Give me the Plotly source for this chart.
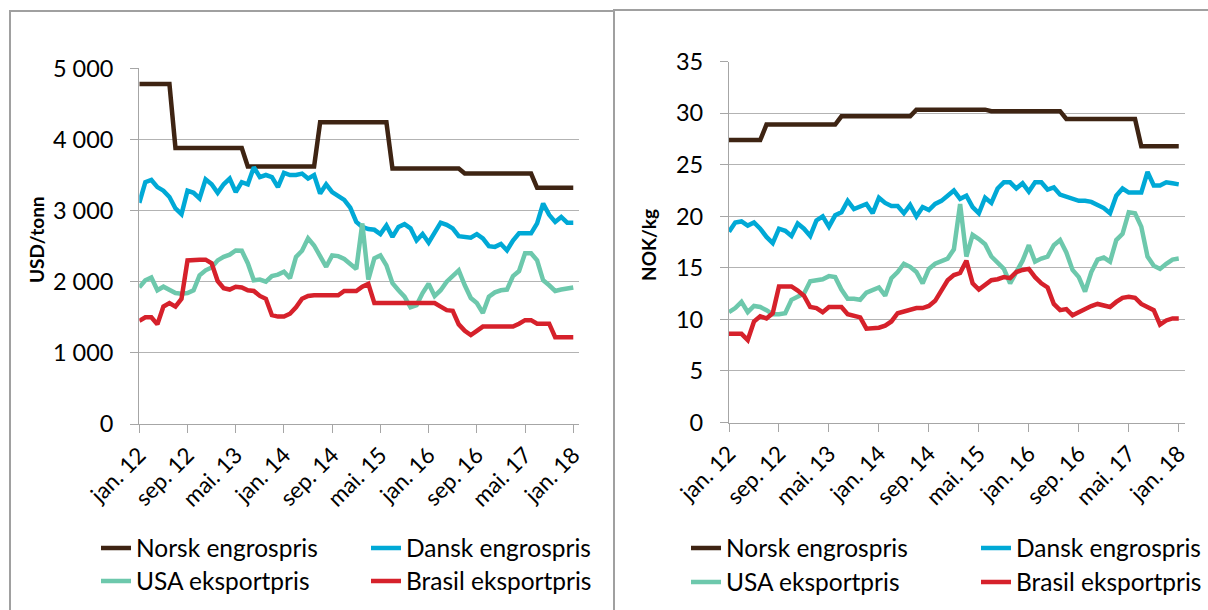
import plotly.graph_objects as go

W, H = 1208, 610

# month labels jan. 12 .. jan. 18
month_names = ['jan', 'feb', 'mar', 'apr', 'mai', 'jun', 'jul', 'aug', 'sep', 'okt', 'nov', 'des']
months = [f"{month_names[i % 12]}. {12 + i // 12}" for i in range(73)]
tick_labels = months[::8]

series_names = ['Norsk engrospris', 'Dansk engrospris', 'USA eksportpris', 'Brasil eksportpris']
colors = ['#3e2413', '#00a9d6', '#6dc8ac', '#d6212b']

# USD/tonn
norsk_usd = [4780] * 6 + [3880] * 12 + [3620] * 12 + [4240] * 12 + [3590] * 12 + [3520] * 12 + [3320] * 7
dansk_usd = [3110, 3400, 3430, 3330, 3280, 3190, 3030, 2950, 3280, 3250,
             3170, 3440, 3370, 3250, 3370, 3450, 3260, 3400, 3370, 3610,
             3470, 3500, 3470, 3330, 3530, 3500, 3500, 3520, 3450, 3500,
             3240, 3370, 3260, 3200, 3150, 3040, 2840, 2770, 2740, 2730,
             2670, 2790, 2630, 2770, 2810, 2750, 2580, 2670, 2550, 2690,
             2830, 2800, 2750, 2640, 2630, 2620, 2670, 2610, 2500, 2490,
             2530, 2440, 2580, 2680, 2680, 2680, 2820, 3100, 2940, 2840,
             2910, 2830, 2830]
usa_usd = [1920, 2020, 2060, 1880, 1930, 1880, 1840, 1830, 1840, 1880,
           2090, 2160, 2200, 2300, 2350, 2380, 2440, 2435, 2260, 2020,
           2030, 2000, 2080, 2100, 2140, 2050, 2350, 2435, 2610, 2510,
           2370, 2210, 2370, 2360, 2320, 2250, 2180, 2820, 2030, 2330,
           2370, 2230, 1980, 1880, 1790, 1640, 1670, 1840, 1970, 1800,
           1880, 2000, 2090, 2160, 1950, 1770, 1700, 1560, 1790, 1850,
           1880, 1890, 2080, 2150, 2400, 2400, 2300, 2020, 1950, 1870,
           1890, 1910, 1920]
brasil_usd = [1450, 1500, 1500, 1400, 1650, 1700, 1650, 1760, 2300, 2310,
              2310, 2310, 2260, 2010, 1910, 1890, 1930, 1920, 1880, 1870,
              1800, 1760, 1530, 1510, 1510, 1550, 1640, 1760, 1800, 1810,
              1810, 1810, 1810, 1810, 1870, 1870, 1870, 1930, 1970, 1700,
              1700, 1700, 1700, 1700, 1700, 1700, 1700, 1700, 1700, 1700,
              1650, 1600, 1590, 1400, 1310, 1250, 1310, 1370, 1370, 1370,
              1370, 1370, 1370, 1410, 1460, 1460, 1410, 1410, 1410, 1220,
              1220, 1220, 1220]

# NOK/kg
norsk_nok = [27.4] * 6 + [28.9] * 12 + [29.7] * 12 + [30.35] * 12 + [30.2] * 12 + [29.45] * 12 + [26.8] * 7
dansk_nok = [18.5, 19.4, 19.5, 19.1, 19.4, 18.8, 18.0, 17.4, 18.8, 18.6,
             18.1, 19.3, 18.8, 18.1, 19.6, 20.0, 19.0, 20.1, 20.4, 21.5,
             20.7, 20.9, 21.2, 20.3, 21.8, 21.3, 21.0, 21.0, 20.3, 21.1,
             20.0, 20.9, 20.6, 21.2, 21.5, 22.0, 22.5, 21.7, 22.0, 20.9,
             20.3, 21.8, 21.3, 22.7, 23.3, 23.3, 22.7, 23.2, 22.4, 23.3,
             23.3, 22.6, 22.8, 22.1, 21.9, 21.8, 21.5, 21.5, 21.4, 21.1,
             20.8, 20.3, 22.0, 22.7, 22.3, 22.3, 22.3, 24.3, 23.0, 23.0,
             23.3, 23.2, 23.1]
usa_nok = [10.7, 11.1, 11.7, 10.7, 11.3, 11.2, 10.9, 10.5, 10.5, 10.6,
           11.9, 12.2, 12.5, 13.7, 13.8, 13.9, 14.2, 14.1, 12.9, 12.0,
           12.0, 11.9, 12.6, 12.8, 13.1, 12.3, 14.0, 14.6, 15.4, 15.1,
           14.6, 13.5, 14.9, 15.4, 15.7, 15.9, 16.8, 21.2, 16.1, 18.2,
           17.8, 17.3, 16.1, 15.5, 14.9, 13.5, 14.6, 15.7, 17.2, 15.6,
           15.9, 16.1, 17.2, 17.7, 16.5, 14.8, 14.1, 12.7, 14.6, 15.8,
           16.0, 15.6, 17.7, 18.3, 20.4, 20.3, 19.0, 16.1, 15.2, 14.9,
           15.4, 15.8, 15.9]
brasil_nok = [8.6, 8.6, 8.6, 8.0, 9.8, 10.3, 10.1, 10.6, 13.2, 13.2,
              13.2, 12.8, 12.3, 11.2, 11.1, 10.7, 11.2, 11.2, 11.2, 10.5,
              10.3, 10.2, 9.1, 9.1, 9.2, 9.4, 9.8, 10.6, 10.8, 11.0,
              11.1, 11.1, 11.3, 11.8, 12.9, 13.8, 14.3, 14.5, 15.7, 13.5,
              12.9, 13.3, 13.8, 13.9, 14.1, 14.0, 14.6, 14.8, 14.9, 14.1,
              13.5, 13.1, 11.5, 10.9, 11.0, 10.4, 10.7, 11.1, 11.3, 11.5,
              11.4, 11.2, 11.7, 12.1, 12.2, 12.1, 11.5, 11.2, 10.9, 9.5,
              9.9, 10.1, 10.1]

usd_series = [norsk_usd, dansk_usd, usa_usd, brasil_usd]
nok_series = [norsk_nok, dansk_nok, usa_nok, brasil_nok]

FONT = 'Lato'
GRID = '#b3b3b3'
AXIS = '#a6a6a6'


def px_x(p):
    return p / W


def px_y(p):
    return 1 - p / H


fig = go.Figure()

legend_of = ['legend', 'legend', 'legend2', 'legend2']
for name, vals, col, lg in zip(series_names, usd_series, colors, legend_of):
    fig.add_trace(go.Scatter(x=months, y=vals, name=name, mode='lines',
                             line=dict(color=col, width=4.5),
                             xaxis='x', yaxis='y', legend=lg))

legend_of = ['legend3', 'legend3', 'legend4', 'legend4']
for name, vals, col, lg in zip(series_names, nok_series, colors, legend_of):
    fig.add_trace(go.Scatter(x=months, y=vals, name=name, mode='lines',
                             line=dict(color=col, width=4.5),
                             xaxis='x2', yaxis='y2', legend=lg))

xcommon = dict(type='category', range=[0, 73], tickmode='array',
               tickvals=tick_labels, ticktext=tick_labels, tickangle=-45,
               showgrid=False, showline=True, linecolor=AXIS, linewidth=1.3,
               ticks='outside', ticklen=8, tickcolor=AXIS, tickwidth=1.3,
               tickfont=dict(family=FONT, size=22.5, color='black'))
ycommon = dict(showgrid=True, gridcolor=GRID, gridwidth=1.3, zeroline=False,
               showline=True, linecolor=AXIS, linewidth=1.3,
               ticks='outside', ticklen=8, tickcolor=AXIS, tickwidth=1.3,
               ticklabelstandoff=12,
               tickfont=dict(family=FONT, size=23.5, color='black'))

legend_common = dict(orientation='h', bgcolor='rgba(0,0,0,0)', borderwidth=0,
                     font=dict(family=FONT, size=24.5, color='black'),
                     xanchor='left', yanchor='middle', entrywidthmode='pixels',
                     traceorder='normal')

fig.update_layout(
    width=W, height=H,
    margin=dict(l=0, r=0, t=0, b=0, autoexpand=False),
    paper_bgcolor='white', plot_bgcolor='white',
    separators=', ',
    showlegend=True,
    xaxis=dict(xcommon, domain=[px_x(139.3), px_x(579.3)], anchor='y'),
    yaxis=dict(ycommon, domain=[px_y(424), px_y(68.3)], range=[0, 5000],
               dtick=1000, tickformat=',d', anchor='x'),
    xaxis2=dict(xcommon, domain=[px_x(729), px_x(1185)], anchor='y2'),
    yaxis2=dict(ycommon, domain=[px_y(422.5), px_y(61.7)], range=[0, 35],
                dtick=5, anchor='x2'),
    legend=dict(legend_common, x=px_x(96), y=px_y(548), entrywidth=225),
    legend2=dict(legend_common, x=px_x(96), y=px_y(581), entrywidth=225),
    legend3=dict(legend_common, x=px_x(686), y=px_y(548), entrywidth=245),
    legend4=dict(legend_common, x=px_x(686), y=px_y(582), entrywidth=245),
    annotations=[
        dict(text='<b>USD/tonn</b>', x=px_x(36), y=px_y(240), xref='paper', yref='paper',
             xanchor='center', yanchor='middle', textangle=-90, showarrow=False,
             font=dict(family=FONT, size=19, color='black')),
        dict(text='<b>NOK/kg</b>', x=px_x(648), y=px_y(245), xref='paper', yref='paper',
             xanchor='center', yanchor='middle', textangle=-90, showarrow=False,
             font=dict(family=FONT, size=19, color='black')),
    ],
    shapes=[
        dict(type='rect', xref='paper', yref='paper', x0=px_x(10), x1=px_x(614),
             y0=px_y(11), y1=px_y(640), line=dict(color='#a0a0a0', width=2)),
        dict(type='rect', xref='paper', yref='paper', x0=px_x(614), x1=px_x(1240),
             y0=px_y(10), y1=px_y(640), line=dict(color='#a0a0a0', width=2)),
    ],
)

# drop the default page margin so the figure sits at the window origin
fig.write_html("out.html", config={'displayModeBar': False},
               post_script="document.body.style.margin='0';")
